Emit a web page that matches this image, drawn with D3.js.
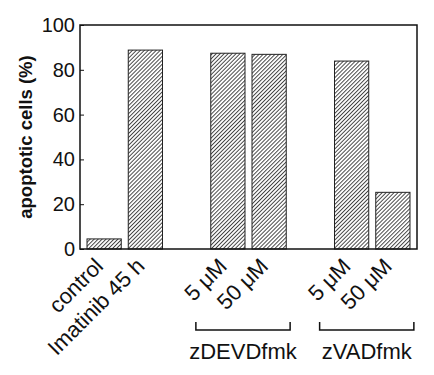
<!DOCTYPE html>
<html>
<head>
<meta charset="utf-8">
<script src="https://cdn.jsdelivr.net/npm/d3@7"></script>
<style>
  body { margin: 0; background: #fff; }
  svg { display: block; font-family: "Liberation Sans", Arial, sans-serif; }
</style>
</head>
<body>
<div id="chart"></div>
<script>
// categories along the x axis ("gap" slots are the empty spaces between groups)
const categories = ["control", "Imatinib 45 h", "gap1", "zDEVD 5", "zDEVD 50", "gap2", "zVAD 5", "zVAD 50"];
const tickLabels = ["control", "Imatinib 45 h", "", "5 μM", "50 μM", "", "5 μM", "50 μM"];
const values = [4.5, 88.8, null, 87.4, 86.9, null, 83.9, 25.3];
const yTicks = [0, 20, 40, 60, 80, 100];
const groups = [
    { name: "zDEVDfmk", from: "zDEVD 5", to: "zDEVD 50" },
    { name: "zVADfmk", from: "zVAD 5", to: "zVAD 50" }
];

const width = 434, height = 375;
const margin = { top: 25, right: 17, bottom: 126, left: 80 };

const svg = d3.select("#chart").append("svg")
    .attr("width", width)
    .attr("height", height);

// hatch fill for the bars
const pattern = svg.append("defs").append("pattern")
    .attr("id", "hatch")
    .attr("patternUnits", "userSpaceOnUse")
    .attr("width", 2.8)
    .attr("height", 2.8)
    .attr("patternTransform", "rotate(45)");
pattern.append("rect").attr("width", 2.8).attr("height", 2.8).attr("fill", "#fff");
pattern.append("line")
    .attr("x1", 0.5).attr("y1", 0).attr("x2", 0.5).attr("y2", 2.8)
    .attr("stroke", "#333").attr("stroke-width", 0.9);

const x = d3.scaleBand()
    .domain(categories)
    .range([margin.left, width - margin.right])
    .paddingInner(0.17)
    .paddingOuter(0.17);

const y = d3.scaleLinear()
    .domain([0, 100])
    .range([height - margin.bottom, margin.top]);

const data = categories.map((c, i) => ({ cat: c, label: tickLabels[i], value: values[i] }));

// bars
svg.selectAll("rect.bar")
    .data(data.filter(d => d.value != null))
    .enter()
    .append("rect")
    .attr("class", "bar")
    .attr("x", d => x(d.cat))
    .attr("y", d => y(d.value))
    .attr("width", x.bandwidth())
    .attr("height", d => y(0) - y(d.value))
    .attr("fill", "url(#hatch)")
    .attr("stroke", "#222")
    .attr("stroke-width", 1);

// frame
svg.append("rect")
    .attr("x", margin.left)
    .attr("y", margin.top)
    .attr("width", width - margin.left - margin.right)
    .attr("height", height - margin.top - margin.bottom)
    .attr("fill", "none")
    .attr("stroke", "#111")
    .attr("stroke-width", 1.5);

// y axis with inward ticks
const yAxis = svg.append("g")
    .attr("transform", `translate(${margin.left},0)`)
    .call(d3.axisLeft(y).tickValues(yTicks).tickSizeInner(-4).tickSizeOuter(0).tickPadding(5));
yAxis.select(".domain").remove();
yAxis.selectAll(".tick line").attr("stroke", "#111");
yAxis.selectAll(".tick text")
    .attr("font-size", 20)
    .attr("font-family", "Liberation Sans, Arial, sans-serif")
    .attr("fill", "#111");

svg.append("text")
    .attr("transform", `translate(32,${(margin.top + height - margin.bottom) / 2}) rotate(-90)`)
    .attr("text-anchor", "middle")
    .attr("font-size", 18.5)
    .attr("font-weight", "bold")
    .attr("fill", "#111")
    .text("apoptotic cells (%)");

// rotated category labels
svg.selectAll("text.cat")
    .data(data.filter(d => d.label))
    .enter()
    .append("text")
    .attr("class", "cat")
    .attr("transform", d => `translate(${x(d.cat) + x.bandwidth() / 2 - 5},${y(0) + 13}) rotate(-45)`)
    .attr("text-anchor", "end")
    .attr("dy", "0.35em")
    .attr("font-size", 22)
    .attr("fill", "#111")
    .text(d => d.label);

// group brackets
const bracketY = 330, bracketTick = 8;
groups.forEach(g => {
    const x0 = x(g.from) + x.bandwidth() / 2 - 32;
    const x1 = x(g.to) + x.bandwidth() / 2 + 21;
    svg.append("path")
        .attr("d", `M${x0},${bracketY - bracketTick}V${bracketY}H${x1}V${bracketY - bracketTick}`)
        .attr("fill", "none")
        .attr("stroke", "#111")
        .attr("stroke-width", 1.5);
    svg.append("text")
        .attr("x", (x0 + x1) / 2)
        .attr("y", 359)
        .attr("text-anchor", "middle")
        .attr("font-size", 22)
        .attr("fill", "#111")
        .text(g.name);
});
</script>
</body>
</html>
